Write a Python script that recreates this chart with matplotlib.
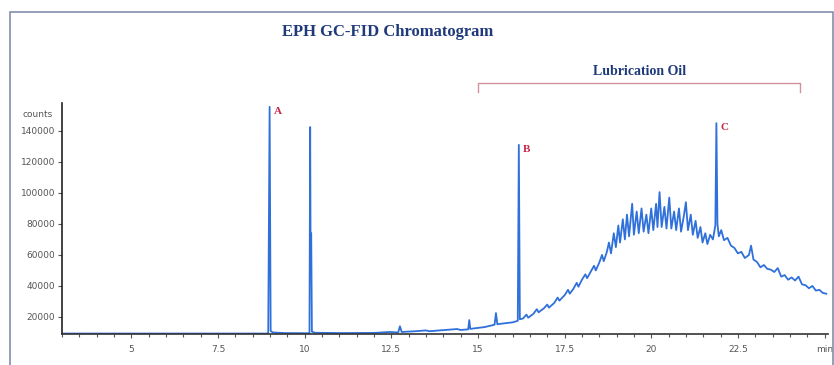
import numpy as np
import matplotlib
matplotlib.use('Agg')
import matplotlib.pyplot as plt
from matplotlib.patches import Rectangle
from matplotlib.ticker import MultipleLocator

# ─── DATA ───────────────────────────────────────────────────────────────────
# baseline + peak A + second early peak
time_early = [3.00, 8.95, 8.99, 9.02, 9.08, 9.40, 10.10, 10.14, 10.16, 10.17, 10.19, 10.21, 10.30,
              11.00, 12.00, 12.45, 12.70, 12.75, 12.80, 13.20, 13.50, 13.60, 14.00, 14.40, 14.50,
              14.72, 14.75, 14.78, 15.20, 15.48, 15.52, 15.56, 15.80]
counts_early = [9300, 9300, 155500, 11000, 10000, 9600, 9500, 9500, 142500, 75000, 74000, 10500, 9800,
                9600, 9700, 10300, 10000, 14000, 10300, 10800, 11300, 10800, 11500, 12200, 11600,
                12000, 18000, 12300, 13500, 15000, 22500, 15300, 16000]

# lubrication oil hump with peaks B and C
time_hump = [16.00, 16.15, 16.18, 16.21, 16.30, 16.40, 16.45, 16.60, 16.70, 16.75, 16.90, 17.00,
             17.05, 17.20, 17.30, 17.35, 17.50, 17.60, 17.65, 17.75, 17.85, 17.90, 18.00, 18.10,
             18.15, 18.25, 18.35, 18.40, 18.50, 18.58, 18.63, 18.72, 18.78, 18.84, 18.92, 18.98,
             19.05, 19.10, 19.18, 19.24, 19.30, 19.36, 19.45, 19.50, 19.58, 19.64, 19.72, 19.78,
             19.86, 19.92, 20.00, 20.06, 20.14, 20.18, 20.24, 20.30, 20.38, 20.44, 20.52, 20.58,
             20.66, 20.72, 20.80, 20.86, 20.94, 21.00, 21.06, 21.14, 21.20, 21.28, 21.34, 21.42,
             21.48, 21.56, 21.62, 21.70, 21.78, 21.85, 21.88, 21.91, 21.95, 22.02, 22.10, 22.20,
             22.30, 22.40, 22.50, 22.60, 22.70, 22.82, 22.88, 22.95, 23.05, 23.15, 23.25, 23.35,
             23.45, 23.55, 23.65, 23.75, 23.85, 23.95, 24.05, 24.15, 24.25, 24.35, 24.45, 24.55,
             24.65, 24.75, 24.85, 24.95, 25.05]
counts_hump = [16500, 17500, 131000, 18500, 19000, 21500, 19500, 22000, 25000, 23000, 25500, 28000,
               26000, 29000, 32500, 30500, 34000, 37500, 35000, 38000, 42000, 39500, 44000, 47500,
               45000, 49000, 53000, 50000, 55000, 60000, 56000, 62000, 68000, 61000, 74000, 65000,
               79000, 68000, 83000, 70000, 86000, 72000, 93000, 73000, 88000, 74000, 90000, 75000,
               86000, 74000, 90000, 76000, 93000, 78000, 100500, 78000, 91000, 77000, 97000, 77000,
               88000, 76000, 90000, 75000, 85000, 94000, 76000, 86000, 73000, 82000, 71000, 78000,
               68000, 74000, 67000, 73000, 70000, 79000, 145000, 80000, 72000, 76000, 69500, 71000,
               66000, 64500, 61000, 62000, 58000, 60000, 66000, 57000, 55500, 52000, 53500, 51000,
               50500, 49000, 51500, 46000, 47000, 44000, 45500, 43500, 46000, 41000, 40500, 38500,
               40000, 37000, 37500, 35500, 35000]

x_ticks = [5, 7.5, 10, 12.5, 15, 17.5, 20, 22.5, 25]
x_tick_labels = ['5', '7.5', '10', '12.5', '15', '17.5', '20', '22.5', 'min']
y_ticks = [20000, 40000, 60000, 80000, 100000, 120000, 140000]

peak_labels = ['A', 'B', 'C']
peak_times = [8.99, 16.18, 21.88]
peak_heights = [155500, 131000, 145000]

oil_range = (15.0, 24.3)

# ─── PLOT ───────────────────────────────────────────────────────────────────
fig = plt.figure(figsize=(8.34, 3.65), dpi=100)
fig.patch.set_facecolor('white')

# outer frame
fig.patches.append(Rectangle((10/834, -0.01), 823/834, 1 - 12/365 + 0.01, transform=fig.transFigure,
                             fill=False, edgecolor='#8090ac', linewidth=1.2))

ax = fig.add_axes([62/834, 31/365, 766/834, 231/365])
ax.plot(time_early + time_hump, counts_early + counts_hump, color='#2f70da', linewidth=1.3)

ax.set_xlim(3.0, 25.1)
ax.set_ylim(9000, 158000)
ax.set_xticks(x_ticks)
ax.set_xticklabels(x_tick_labels)
ax.xaxis.set_minor_locator(MultipleLocator(0.5))
ax.set_yticks(y_ticks)
ax.set_yticklabels([str(v) for v in y_ticks])
ax.tick_params(axis='both', labelsize=6.5, colors='#555555', length=3, width=0.8, pad=2)
ax.tick_params(axis='x', which='minor', length=2, width=0.8, colors='#555555')
ax.tick_params(axis='x', pad=5)
for s in ['top', 'right']:
    ax.spines[s].set_visible(False)
ax.spines['left'].set_color('#222222')
ax.spines['bottom'].set_color('#333333')
ax.spines['left'].set_linewidth(1.2)
ax.spines['bottom'].set_linewidth(1.2)

ax.text(-0.012, 0.95, 'counts', transform=ax.transAxes, ha='right', va='center',
        fontsize=6.5, color='#555555')

for lab, t, h in zip(peak_labels, peak_times, peak_heights):
    ax.text(t + 0.12, h - 3000, lab, color='#c8284a', fontsize=8, fontfamily='Liberation Serif',
            fontweight='bold', ha='left', va='center')

# lubrication oil bracket
bx0, bx1 = oil_range
ax.plot([bx0, bx0, bx1, bx1], [165000, 171000, 171000, 165000], color='#d4929a',
        linewidth=1.0, clip_on=False)
ax.text((bx0 + bx1) / 2, 178500, 'Lubrication Oil', ha='center', va='center', fontsize=10,
        fontfamily='Liberation Serif', fontweight='bold', color='#1f3a7a')

fig.text(388/834, 1 - 32/365, 'EPH GC-FID Chromatogram', ha='center', va='center', fontsize=12,
         fontfamily='Liberation Serif', fontweight='bold', color='#1f3a7a')

plt.savefig('out.png', dpi=100)
